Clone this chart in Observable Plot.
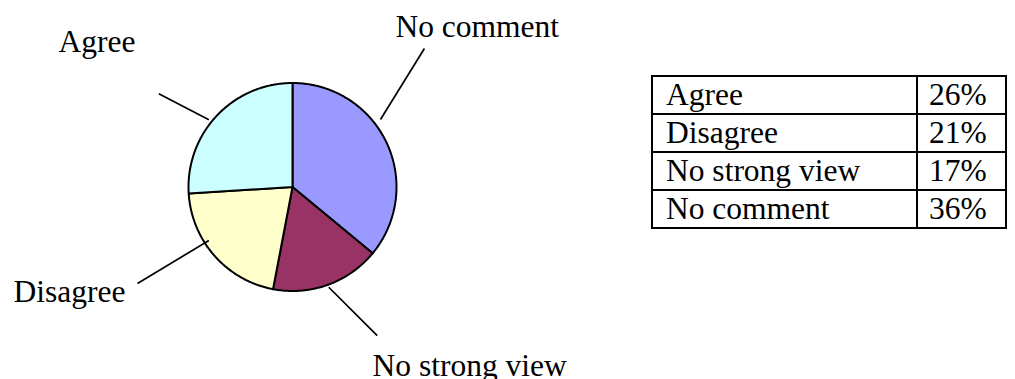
<!DOCTYPE html>
<html>
<head>
<meta charset="utf-8">
<script src="https://cdn.jsdelivr.net/npm/d3@7"></script>
<script src="https://cdn.jsdelivr.net/npm/@observablehq/plot@0.6"></script>
<style>
  html, body { margin: 0; padding: 0; background: #fff; overflow: hidden; }
  #wrap { position: relative; width: 1015px; height: 379px; }
  #chart svg { display: block; }
  #summary {
    position: absolute; left: 651px; top: 75px;
    border-collapse: collapse;
    font-family: "Liberation Serif", "Times New Roman", serif;
    font-size: 31.5px; color: #000;
  }
  #summary td {
    border: 2px solid #000;
    height: 36px; line-height: 36px;
    padding: 0; white-space: nowrap; box-sizing: content-box;
    vertical-align: top;
  }
  #summary td.name { width: 250px; padding-left: 13px; }
  #summary td.pct  { width: 76px;  padding-left: 11px; }
</style>
</head>
<body>
<div id="wrap">
  <div id="chart"></div>
  <table id="summary"><tbody></tbody></table>
</div>
<script>
// Survey responses, clockwise from 12 o'clock
const categories = ["No comment", "No strong view", "Disagree", "Agree"];
const shares = [36, 17, 21, 26];
const colors = ["#9999FF", "#993366", "#FFFFCC", "#CCFFFF"];
// Order of rows in the summary table
const tableOrder = ["Agree", "Disagree", "No strong view", "No comment"];

// Geometry (pixels)
const W = 1015, H = 379;
const CX = 292, CY = 186.5, R = 104;

// Callout placement: leader from/to as [compass angle in degrees, radius],
// text offset from the leader's outer end, and text anchor
const callouts = {
  "No comment":     {from: [52.5, 110.9], to: [43.6, 191.3], text: [-29, -11],   anchor: "start"},
  "No strong view": {from: [160.1, 106.6], to: [150.3, 171.0], text: [-4.7, 40.5], anchor: "start"},
  "Disagree":       {from: [237.4, 99.3], to: [238.1, 182.6], text: [-12, 18.5],  anchor: "end"},
  "Agree":          {from: [308.8, 107.3], to: [304.9, 163.0], text: [-23.3, -41.3], anchor: "end"}
};

const polar = (deg, r) => {
  const a = deg * Math.PI / 180;
  return [CX + r * Math.sin(a), CY - r * Math.cos(a)];
};

const data = categories.map((label, i) => ({label, share: shares[i]}));
const arcs = d3.pie().sort(null).value(d => d.share)(data);

// Slice outlines: centre -> arc -> centre
const slicePoints = arcs.flatMap(a => {
  const pts = [{label: a.data.label, x: CX, y: CY}];
  const steps = Math.max(2, Math.ceil((a.endAngle - a.startAngle) / (Math.PI / 360)));
  for (let k = 0; k <= steps; ++k) {
    const t = a.startAngle + (a.endAngle - a.startAngle) * k / steps;
    pts.push({label: a.data.label, x: CX + R * Math.sin(t), y: CY - R * Math.cos(t)});
  }
  pts.push({label: a.data.label, x: CX, y: CY});
  return pts;
});

const leaders = categories.map(label => {
  const c = callouts[label];
  const [x1, y1] = polar(...c.from);
  const [x2, y2] = polar(...c.to);
  return {label, x1, y1, x2, y2, tx: x2 + c.text[0], ty: y2 + c.text[1], anchor: c.anchor};
});

const textMarks = ["start", "end"].map(anchor =>
  Plot.text(leaders.filter(d => d.anchor === anchor), {
    x: "tx", y: "ty", text: "label",
    textAnchor: anchor, lineAnchor: "bottom",
    fontFamily: "Liberation Serif", fontSize: 31.5, fill: "#000"
  })
);

const chart = Plot.plot({
  width: W, height: H,
  margin: 0,
  x: {domain: [0, W], range: [0, W], axis: null},
  y: {domain: [0, H], range: [0, H], axis: null},
  color: {type: "ordinal", domain: categories, range: colors},
  style: {background: "#fff", fontFamily: "Liberation Serif"},
  marks: [
    Plot.line(slicePoints, {
      x: "x", y: "y", z: "label", fill: "label",
      stroke: "#000", strokeWidth: 2, strokeLinejoin: "round"
    }),
    Plot.link(leaders, {x1: "x1", y1: "y1", x2: "x2", y2: "y2", stroke: "#000", strokeWidth: 1.7}),
    ...textMarks
  ]
});
document.getElementById("chart").append(chart);

// Summary table built from the same shares
const tbody = document.querySelector("#summary tbody");
tableOrder.forEach(name => {
  const tr = document.createElement("tr");
  const a = document.createElement("td");
  a.className = "name"; a.textContent = name;
  const b = document.createElement("td");
  b.className = "pct"; b.textContent = shares[categories.indexOf(name)] + "%";
  tr.append(a, b);
  tbody.append(tr);
});
</script>
</body>
</html>
